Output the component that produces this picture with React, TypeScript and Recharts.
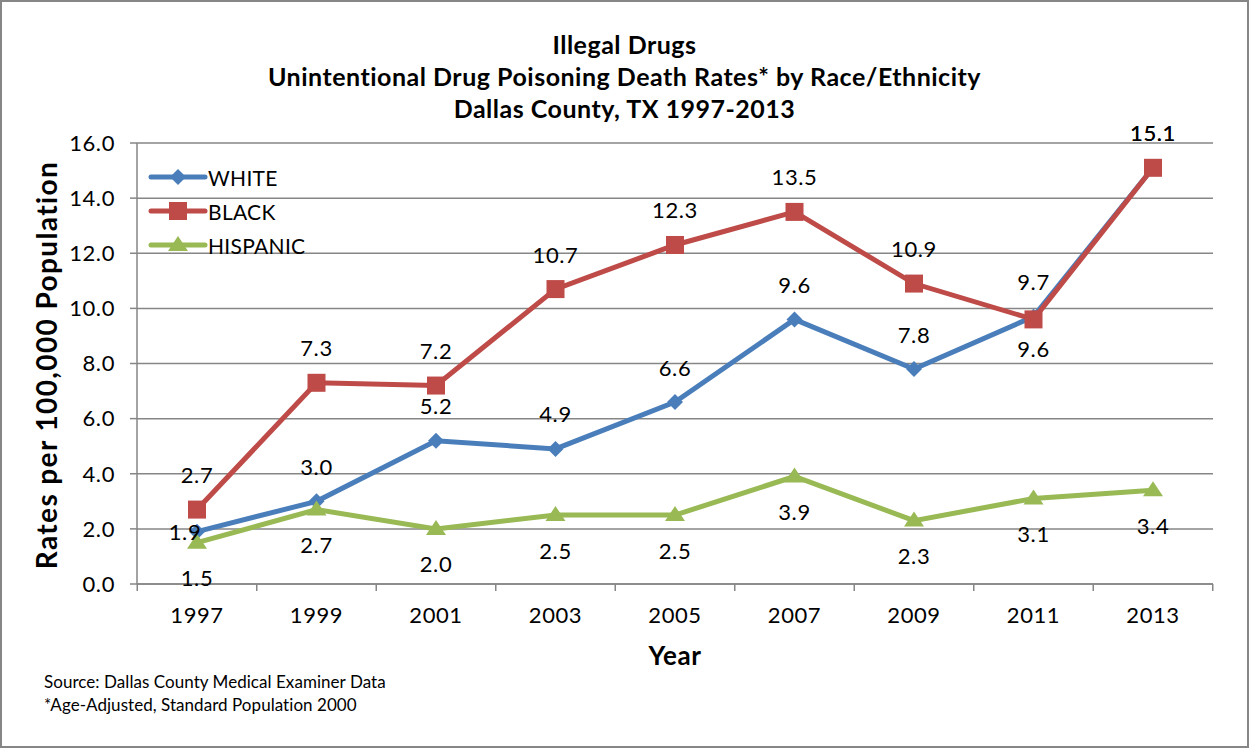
import React from 'react';
import { LineChart, Line, XAxis, YAxis, CartesianGrid } from 'recharts';

const years = ['1997', '1999', '2001', '2003', '2005', '2007', '2009', '2011', '2013'];
const white = [1.9, 3.0, 5.2, 4.9, 6.6, 9.6, 7.8, 9.7, 15.1];
const black = [2.7, 7.3, 7.2, 10.7, 12.3, 13.5, 10.9, 9.6, 15.1];
const hispanic = [1.5, 2.7, 2.0, 2.5, 2.5, 3.9, 2.3, 3.1, 3.4];
const yTicks = [0, 2, 4, 6, 8, 10, 12, 14, 16];

const data = years.map((year, i) => ({
  year,
  white: white[i],
  black: black[i],
  hispanic: hispanic[i],
}));

const FONT = 'Lato, "Open Sans", sans-serif';
const BLUE = '#4A7EBB';
const RED = '#BE4B48';
const GREEN = '#98B954';
const GRID = '#868686';

const Diamond = ({ cx, cy, color }: any) => (
  <path d={`M${cx},${cy - 8} L${cx + 8},${cy} L${cx},${cy + 8} L${cx - 8},${cy} Z`} fill={color} />
);
const Square = ({ cx, cy, color }: any) => (
  <rect x={cx - 9} y={cy - 9} width={18} height={18} fill={color} />
);
const Triangle = ({ cx, cy, color }: any) => (
  <path d={`M${cx},${cy - 9} L${cx + 10},${cy + 6} L${cx - 10},${cy + 6} Z`} fill={color} />
);

// data label: 'above' / 'below' by default, with a few per-point exceptions
const makeLabel = (where: 'above' | 'below', overrides: Record<number, [number, number]> = {}) =>
  (props: any) => {
    const { x, y, value, index } = props;
    if (x == null || y == null) return null;
    let dx = 0;
    let dy = where === 'above' ? -35 : 35;
    if (overrides[index]) [dx, dy] = overrides[index];
    return (
      <text
        key={`lbl-${index}`}
        x={x + dx}
        y={y + dy}
        textAnchor="middle"
        dominantBaseline="central"
        fontFamily={FONT}
        fontSize={22}
        letterSpacing={0.6}
        fill="#000"
      >
        {Number(value).toFixed(1)}
      </text>
    );
  };

// year labels plus Excel-style tick marks between categories
const YearTick = (props: any) => {
  const { x, payload, index, visibleTicksCount } = props;
  const half = 119.5 / 2;
  const last = index === (visibleTicksCount ?? years.length) - 1;
  return (
    <g>
      <line x1={x - half} y1={584} x2={x - half} y2={591} stroke={GRID} strokeWidth={1.5} />
      {last && <line x1={x + half} y1={584} x2={x + half} y2={591} stroke={GRID} strokeWidth={1.5} />}
      <text
        x={x}
        y={614}
        textAnchor="middle"
        dominantBaseline="central"
        fontFamily={FONT}
        fontSize={22}
        letterSpacing={0.6}
        fill="#000"
      >
        {payload.value}
      </text>
    </g>
  );
};

const legendItems = [
  { name: 'WHITE', color: BLUE, Marker: Diamond },
  { name: 'BLACK', color: RED, Marker: Square },
  { name: 'HISPANIC', color: GREEN, Marker: Triangle },
];

export default function App() {
  return (
    <div
      style={{
        position: 'absolute',
        left: 0,
        top: 0,
        width: 1249,
        height: 748,
        background: '#fff',
        boxSizing: 'border-box',
        border: `2px solid ${GRID}`,
        overflow: 'hidden',
      }}
    >
      <div
        style={{
          position: 'absolute',
          left: -2,
          top: 26,
          width: 1249,
          textAlign: 'center',
          fontFamily: FONT,
          fontWeight: 700,
          fontSize: 25,
          letterSpacing: 0.5,
          lineHeight: '32px',
          color: '#000',
        }}
      >
        <div>Illegal Drugs</div>
        <div>Unintentional Drug Poisoning Death Rates* by Race/Ethnicity</div>
        <div>Dallas County, TX 1997-2013</div>
      </div>

      <div style={{ position: 'absolute', left: -2, top: -2 }}>
        <LineChart
          width={1249}
          height={748}
          data={data}
          margin={{ top: 143, right: 36, bottom: 114, left: 77 }}
        >
          <CartesianGrid vertical={false} stroke={GRID} strokeWidth={1.5} />
          <XAxis
            dataKey="year"
            padding={{ left: 60, right: 60 }}
            height={50}
            axisLine={{ stroke: GRID, strokeWidth: 1.5 }}
            tickLine={false}
            tick={<YearTick />}
            interval={0}
          />
          <YAxis
            domain={[0, 16]}
            ticks={yTicks}
            width={60}
            tickSize={7}
            tickMargin={15}
            tickFormatter={(v: number) => v.toFixed(1)}
            axisLine={{ stroke: GRID, strokeWidth: 1.5 }}
            tickLine={{ stroke: GRID, strokeWidth: 1.5 }}
            tick={{ fontFamily: FONT, fontSize: 22, fill: '#000', letterSpacing: 0.6 }}
          />
          <Line
            dataKey="white"
            name="WHITE"
            stroke={BLUE}
            strokeWidth={5}
            dot={(p: any) => <Diamond key={`w-${p.index}`} cx={p.cx} cy={p.cy} color={BLUE} />}
            activeDot={false}
            label={makeLabel('above', { 0: [-12, 0] })}
            isAnimationActive={false}
          />
          <Line
            dataKey="black"
            name="BLACK"
            stroke={RED}
            strokeWidth={5}
            dot={(p: any) => <Square key={`b-${p.index}`} cx={p.cx} cy={p.cy} color={RED} />}
            activeDot={false}
            label={makeLabel('above', { 7: [0, 29] })}
            isAnimationActive={false}
          />
          <Line
            dataKey="hispanic"
            name="HISPANIC"
            stroke={GREEN}
            strokeWidth={5}
            dot={(p: any) => <Triangle key={`h-${p.index}`} cx={p.cx} cy={p.cy} color={GREEN} />}
            activeDot={false}
            label={makeLabel('below')}
            isAnimationActive={false}
          />
        </LineChart>
      </div>

      {/* legend, top-left inside the plot */}
      <div style={{ position: 'absolute', left: 146, top: 158 }}>
        {legendItems.map(({ name, color, Marker }) => (
          <div key={name} style={{ display: 'flex', alignItems: 'center', height: 34 }}>
            <svg width={60} height={24}>
              <line x1={3} y1={12} x2={57} y2={12} stroke={color} strokeWidth={5} strokeLinecap="round" />
              <Marker cx={30} cy={12} color={color} />
            </svg>
            <span style={{ fontFamily: FONT, fontSize: 21, color: '#000', marginLeft: 0, letterSpacing: 0.3 }}>
              {name}
            </span>
          </div>
        ))}
      </div>

      <div
        style={{
          position: 'absolute',
          left: 44,
          top: 363,
          transform: 'translate(-50%, -50%) rotate(-90deg)',
          whiteSpace: 'nowrap',
          fontFamily: FONT,
          fontWeight: 700,
          fontSize: 28,
          letterSpacing: 1.4,
          color: '#000',
        }}
      >
        Rates per 100,000 Population
      </div>
      <div
        style={{
          position: 'absolute',
          left: 673,
          top: 653,
          transform: 'translate(-50%, -50%)',
          fontFamily: FONT,
          fontWeight: 700,
          fontSize: 26,
          letterSpacing: 0.6,
          color: '#000',
        }}
      >
        Year
      </div>
      <div
        style={{
          position: 'absolute',
          left: 42,
          top: 668,
          fontFamily: FONT,
          fontSize: 17,
          letterSpacing: 0.05,
          lineHeight: '23px',
          color: '#000',
        }}
      >
        <div>Source: Dallas County Medical Examiner Data</div>
        <div>*Age-Adjusted, Standard Population 2000</div>
      </div>
    </div>
  );
}
